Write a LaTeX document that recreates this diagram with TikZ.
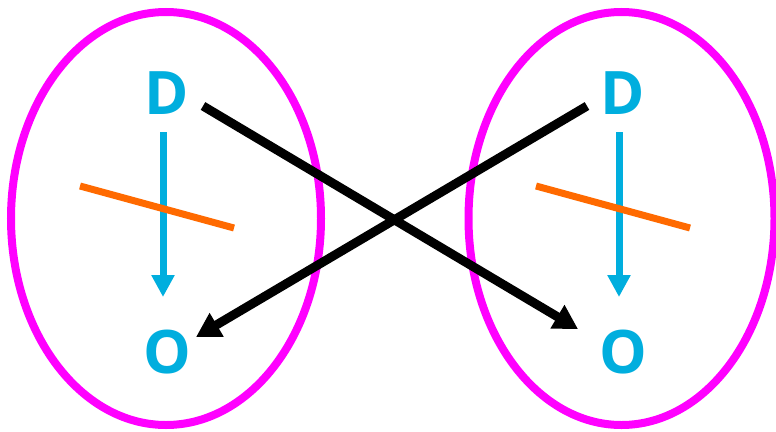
\documentclass[tikz,border=0pt]{standalone}
\usepackage{fontspec}
\setmainfont{Open Sans}
\usetikzlibrary{arrows.meta}
\definecolor{mag}{HTML}{FF00FF}
\definecolor{lblue}{HTML}{00AEDE}
\definecolor{org}{HTML}{FF6A00}
\begin{document}
\begin{tikzpicture}[x=1pt,y=-1pt,
  ring/.style={draw=mag,line width=8pt},
  letter/.style={text=lblue,font=\fontsize{60}{60}\selectfont\bfseries,inner sep=0pt},
  flow/.style={draw=lblue,line width=7pt,-{Triangle[length=22pt,width=22pt]}},
  cut/.style={draw=org,line width=7pt},
  cross/.style={draw=black,line width=9pt,-{Triangle[length=24pt,width=26pt]}}]
\useasboundingbox (0,0) rectangle (776,431);
\draw[ring] (166,218.5) ellipse [x radius=155, y radius=206.5];
\draw[ring] (621.5,218.5) ellipse [x radius=153, y radius=206.5];
\node[letter] (D1) at (167,93) {D};
\node[letter] (O1) at (167,352) {O};
\node[letter] (D2) at (623,93) {D};
\node[letter] (O2) at (623,352) {O};
\coordinate (a1s) at (163,132);
\coordinate (a1e) at (163,297);
\coordinate (a2s) at (619,132);
\coordinate (a2e) at (619,297);
\draw[flow] (a1s) -- (a1e);
\draw[flow] (a2s) -- (a2e);
\coordinate (c1s) at (80,186);
\coordinate (c1e) at (234,228);
\coordinate (c2s) at (536,186);
\coordinate (c2e) at (690,228);
\draw[cut] (c1s) -- (c1e);
\draw[cut] (c2s) -- (c2e);
\coordinate (x1s) at (203,106);
\coordinate (x1e) at (578,329);
\coordinate (x2s) at (587,106);
\coordinate (x2e) at (196,337);
\draw[cross] (x1s) -- (x1e);
\draw[cross] (x2s) -- (x2e);
\end{tikzpicture}
\end{document}
